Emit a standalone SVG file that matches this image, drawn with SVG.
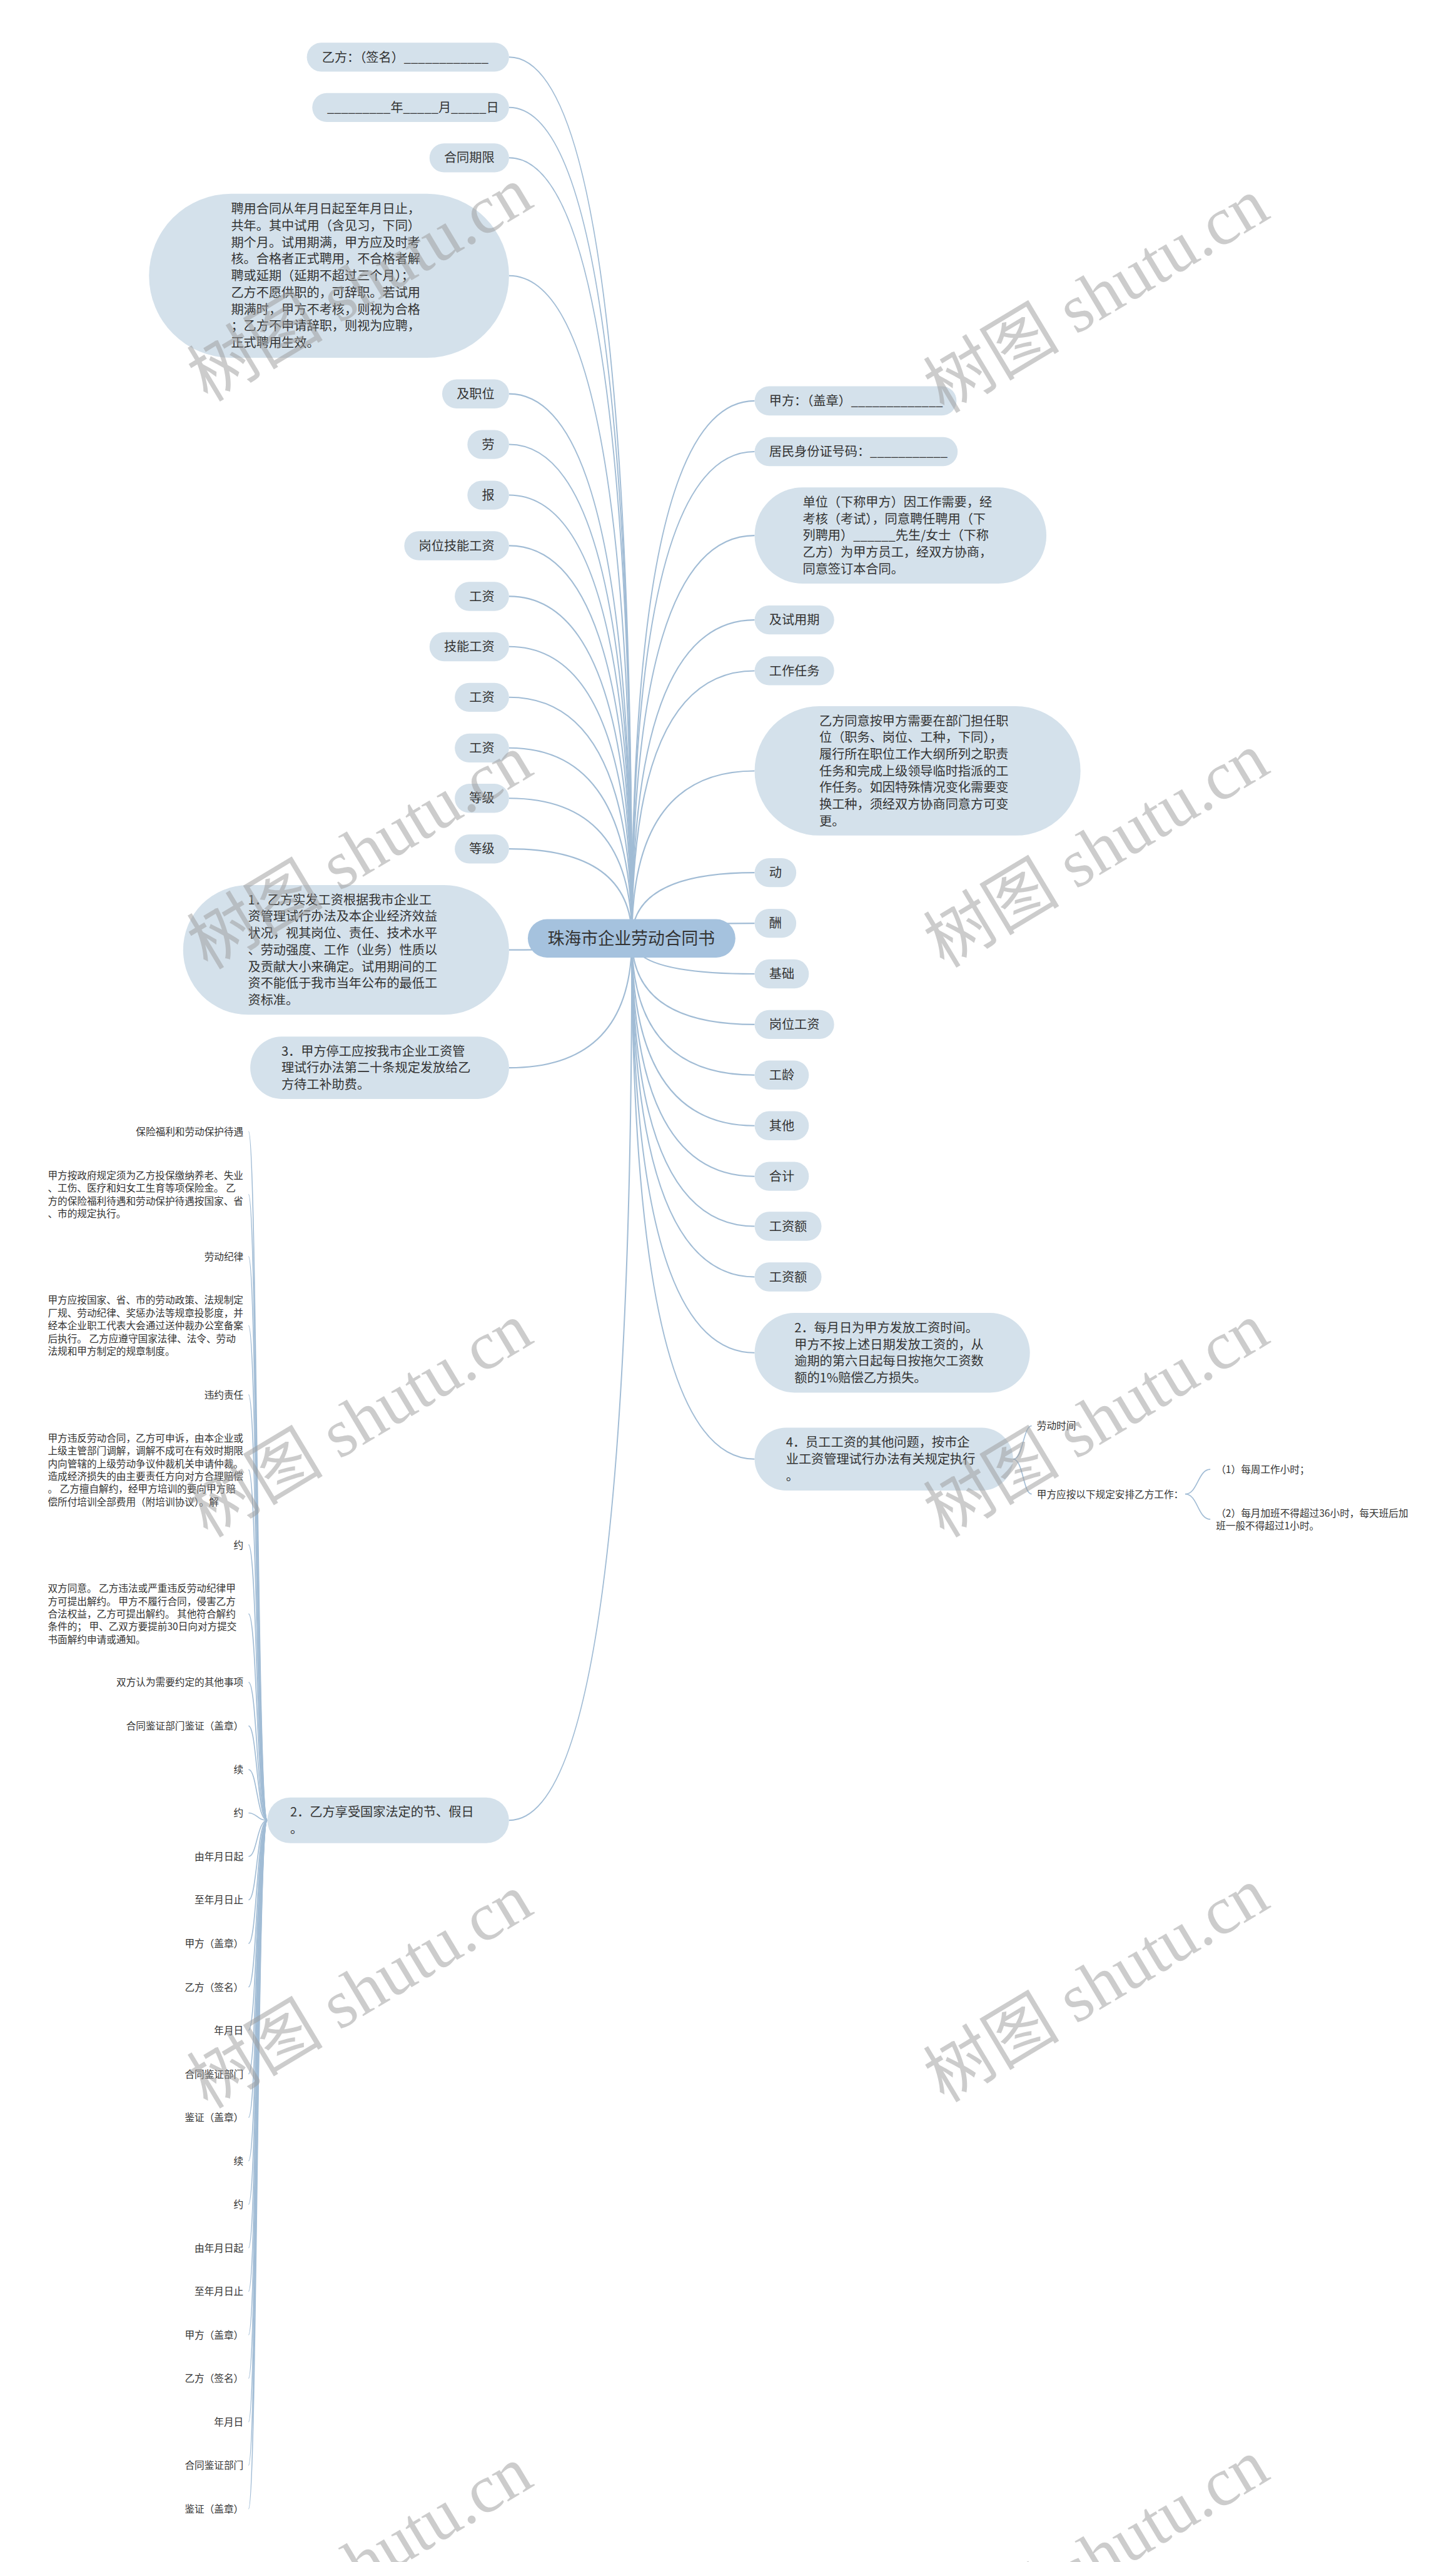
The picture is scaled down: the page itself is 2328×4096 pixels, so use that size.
<svg xmlns="http://www.w3.org/2000/svg" width="2328" height="4096" viewBox="0 0 2328 4096">
<style>
text{font-family:"Noto Sans CJK SC","Noto Sans CJK TC",sans-serif;fill:#333333;white-space:pre}
.nd rect{fill:#d4e1eb}
.root rect{fill:#a5c2de}
.t{font-size:22.2px}
.rt{font-size:29.4px}
.lf{font-size:17.2px}
.c path{fill:none;stroke:#a1bcd5;stroke-width:2.3}
.c2 path{fill:none;stroke:#a1bcd5;stroke-width:1.8}
.wm text{font-family:"Liberation Serif","Noto Sans CJK SC",serif;font-size:120px;fill:#9a9a9a;fill-opacity:0.5}
</style>
<rect width="2328" height="4096" fill="#ffffff"/>
<g transform="scale(0.909375)">
<g id="connectors" class="c">
<path d="M895 100.35Q1111 100.35 1111 1650"/>
<path d="M895 188.85Q1111 188.85 1111 1650"/>
<path d="M895 277.35Q1111 277.35 1111 1650"/>
<path d="M895 484.75Q1111 484.75 1111 1650"/>
<path d="M895 692.35Q1111 692.35 1111 1650"/>
<path d="M895 781.35Q1111 781.35 1111 1650"/>
<path d="M895 870.35Q1111 870.35 1111 1650"/>
<path d="M895 959.35Q1111 959.35 1111 1650"/>
<path d="M895 1048.35Q1111 1048.35 1111 1650"/>
<path d="M895 1136.85Q1111 1136.85 1111 1650"/>
<path d="M895 1225.85Q1111 1225.85 1111 1650"/>
<path d="M895 1314.85Q1111 1314.85 1111 1650"/>
<path d="M895 1403.35Q1111 1403.35 1111 1650"/>
<path d="M895 1492.35Q1111 1492.35 1111 1650"/>
<path d="M895 1670Q1111 1670 1111 1650"/>
<path d="M895 1877.25Q1111 1877.25 1111 1650"/>
<path d="M895 3200.25Q1111 3200.25 1111 1650"/>
<path d="M1326.8 704.75Q1111 704.75 1111 1650"/>
<path d="M1326.8 794Q1111 794 1111 1650"/>
<path d="M1326.8 941.4Q1111 941.4 1111 1650"/>
<path d="M1326.8 1089.9Q1111 1089.9 1111 1650"/>
<path d="M1326.8 1179.3Q1111 1179.3 1111 1650"/>
<path d="M1326.8 1355.3Q1111 1355.3 1111 1650"/>
<path d="M1326.8 1534.2Q1111 1534.2 1111 1650"/>
<path d="M1326.8 1623.2Q1111 1623.2 1111 1650"/>
<path d="M1326.8 1712.2Q1111 1712.2 1111 1650"/>
<path d="M1326.8 1801.1Q1111 1801.1 1111 1650"/>
<path d="M1326.8 1890.1Q1111 1890.1 1111 1650"/>
<path d="M1326.8 1979.1Q1111 1979.1 1111 1650"/>
<path d="M1326.8 2068.1Q1111 2068.1 1111 1650"/>
<path d="M1326.8 2155.9Q1111 2155.9 1111 1650"/>
<path d="M1326.8 2244.9Q1111 2244.9 1111 1650"/>
<path d="M1326.8 2378.3Q1111 2378.3 1111 1650"/>
<path d="M1326.8 2565.25Q1111 2565.25 1111 1650"/>
<g class="c2">
<path d="M1781.3 2565.25C1799 2565.25 1799 2506.7 1814 2506.7"/>
<path d="M1781.3 2565.25C1799 2565.25 1799 2626.7 1814 2626.7"/>
<path d="M2084 2626.7C2106 2626.7 2106 2583.3 2128 2583.3"/>
<path d="M2084 2626.7C2106 2626.7 2106 2671 2128 2671"/>
<path d="M470 3200.25C452 3200.25 452 1989.3 437 1989.3"/>
<path d="M470 3200.25C452 3200.25 452 2100 437 2100"/>
<path d="M470 3200.25C452 3200.25 452 2209 437 2209"/>
<path d="M470 3200.25C452 3200.25 452 2330.4 437 2330.4"/>
<path d="M470 3200.25C452 3200.25 452 2451.8 437 2451.8"/>
<path d="M470 3200.25C452 3200.25 452 2584 437 2584"/>
<path d="M470 3200.25C452 3200.25 452 2715.7 437 2715.7"/>
<path d="M470 3200.25C452 3200.25 452 2837.2 437 2837.2"/>
<path d="M470 3200.25C452 3200.25 452 2957.5 437 2957.5"/>
<path d="M470 3200.25C452 3200.25 452 3034.4 437 3034.4"/>
<path d="M470 3200.25C452 3200.25 452 3110.9 437 3110.9"/>
<path d="M470 3200.25C452 3200.25 452 3187.3 437 3187.3"/>
<path d="M470 3200.25C452 3200.25 452 3263.8 437 3263.8"/>
<path d="M470 3200.25C452 3200.25 452 3340.2 437 3340.2"/>
<path d="M470 3200.25C452 3200.25 452 3416.7 437 3416.7"/>
<path d="M470 3200.25C452 3200.25 452 3493.2 437 3493.2"/>
<path d="M470 3200.25C452 3200.25 452 3569.6 437 3569.6"/>
<path d="M470 3200.25C452 3200.25 452 3646.1 437 3646.1"/>
<path d="M470 3200.25C452 3200.25 452 3722.5 437 3722.5"/>
<path d="M470 3200.25C452 3200.25 452 3799 437 3799"/>
<path d="M470 3200.25C452 3200.25 452 3875.5 437 3875.5"/>
<path d="M470 3200.25C452 3200.25 452 3951.9 437 3951.9"/>
<path d="M470 3200.25C452 3200.25 452 4028.4 437 4028.4"/>
<path d="M470 3200.25C452 3200.25 452 4104.8 437 4104.8"/>
<path d="M470 3200.25C452 3200.25 452 4181.3 437 4181.3"/>
<path d="M470 3200.25C452 3200.25 452 4257.8 437 4257.8"/>
<path d="M470 3200.25C452 3200.25 452 4334.2 437 4334.2"/>
<path d="M470 3200.25C452 3200.25 452 4410.7 437 4410.7"/>
</g>
</g>

<g id="root" class="root"><rect x="928" y="1616" width="365" height="67.5" rx="33.75"/><text class="rt" x="963" y="1661">珠海市企业劳动合同书</text></g>

<g id="n-l1" class="nd"><rect x="539.5" y="75" width="355.5" height="51" rx="25.5"/><text class="t" x="566" y="108.35">乙方：（签名）____________</text></g>
<g id="n-l2" class="nd"><rect x="549" y="163.5" width="346" height="51" rx="25.5"/><text class="t" x="575" y="196.85">_________年_____月_____日</text></g>
<g id="n-l3" class="nd"><rect x="755.2" y="252" width="139.8" height="51" rx="25.5"/><text class="t" x="780.7" y="285.35">合同期限</text></g>
<g id="n-l4" class="nd"><rect x="262" y="340.5" width="633" height="288.5" rx="144.25"/><text class="t"><tspan x="406.25" y="375.15">聘用合同从年月日起至年月日止，</tspan><tspan x="406.25" y="404.55">共年。其中试用（含见习，下同）</tspan><tspan x="406.25" y="433.95">期个月。试用期满，甲方应及时考</tspan><tspan x="406.25" y="463.35">核。合格者正式聘用，不合格者解</tspan><tspan x="406.25" y="492.75">聘或延期（延期不超过三个月）；</tspan><tspan x="406.25" y="522.15">乙方不愿供职的，可辞职。若试用</tspan><tspan x="406.25" y="551.55">期满时，甲方不考核，则视为合格</tspan><tspan x="406.25" y="580.95">；乙方不申请辞职，则视为应聘，</tspan><tspan x="406.25" y="610.35">正式聘用生效。</tspan></text></g>
<g id="n-l5" class="nd"><rect x="777.4" y="667" width="117.6" height="51" rx="25.5"/><text class="t" x="802.9" y="700.35">及职位</text></g>
<g id="n-l6" class="nd"><rect x="821.8" y="756" width="73.2" height="51" rx="25.5"/><text class="t" x="847.3" y="789.35">劳</text></g>
<g id="n-l7" class="nd"><rect x="821.8" y="845" width="73.2" height="51" rx="25.5"/><text class="t" x="847.3" y="878.35">报</text></g>
<g id="n-l8" class="nd"><rect x="710.8" y="934" width="184.2" height="51" rx="25.5"/><text class="t" x="736.3" y="967.35">岗位技能工资</text></g>
<g id="n-l9" class="nd"><rect x="799.6" y="1023" width="95.4" height="51" rx="25.5"/><text class="t" x="825.1" y="1056.35">工资</text></g>
<g id="n-l10" class="nd"><rect x="755.2" y="1111.5" width="139.8" height="51" rx="25.5"/><text class="t" x="780.7" y="1144.85">技能工资</text></g>
<g id="n-l11" class="nd"><rect x="799.6" y="1200.5" width="95.4" height="51" rx="25.5"/><text class="t" x="825.1" y="1233.85">工资</text></g>
<g id="n-l12" class="nd"><rect x="799.6" y="1289.5" width="95.4" height="51" rx="25.5"/><text class="t" x="825.1" y="1322.85">工资</text></g>
<g id="n-l13" class="nd"><rect x="799.6" y="1378" width="95.4" height="51" rx="25.5"/><text class="t" x="825.1" y="1411.35">等级</text></g>
<g id="n-l14" class="nd"><rect x="799.6" y="1467" width="95.4" height="51" rx="25.5"/><text class="t" x="825.1" y="1500.35">等级</text></g>
<g id="n-l15" class="nd"><rect x="322" y="1556" width="573" height="228" rx="114"/><text class="t"><tspan x="436" y="1589.8">1．乙方实发工资根据我市企业工</tspan><tspan x="436" y="1619.2">资管理试行办法及本企业经济效益</tspan><tspan x="436" y="1648.6">状况，视其岗位、责任、技术水平</tspan><tspan x="436" y="1678">、劳动强度、工作（业务）性质以</tspan><tspan x="436" y="1707.4">及贡献大小来确定。试用期间的工</tspan><tspan x="436" y="1736.8">资不能低于我市当年公布的最低工</tspan><tspan x="436" y="1766.2">资标准。</tspan></text></g>
<g id="n-l16" class="nd"><rect x="440" y="1822.5" width="455" height="109.5" rx="54.75"/><text class="t"><tspan x="494.75" y="1855.85">3．甲方停工应按我市企业工资管</tspan><tspan x="494.75" y="1885.25">理试行办法第二十条规定发放给乙</tspan><tspan x="494.75" y="1914.65">方待工补助费。</tspan></text></g>
<g id="n-l17" class="nd"><rect x="470" y="3160" width="425" height="80.5" rx="40.25"/><text class="t"><tspan x="510.25" y="3193.55">2．乙方享受国家法定的节、假日</tspan><tspan x="510.25" y="3222.95">。</tspan></text></g>

<g id="n-r1" class="nd"><rect x="1326.8" y="679" width="355" height="51.5" rx="25.75"/><text class="t" x="1352.3" y="712.75">甲方：（盖章）_____________</text></g>
<g id="n-r2" class="nd"><rect x="1326.8" y="768.5" width="357" height="51" rx="25.5"/><text class="t" x="1352.3" y="802">居民身份证号码：___________</text></g>
<g id="n-r3" class="nd"><rect x="1326.8" y="856.8" width="513" height="169.2" rx="84.6"/><text class="t"><tspan x="1411.4" y="890.6">单位（下称甲方）因工作需要，经</tspan><tspan x="1411.4" y="920">考核（考试），同意聘任聘用（下</tspan><tspan x="1411.4" y="949.4">列聘用）______先生/女士（下称</tspan><tspan x="1411.4" y="978.8">乙方）为甲方员工，经双方协商，</tspan><tspan x="1411.4" y="1008.2">同意签订本合同。</tspan></text></g>
<g id="n-r4" class="nd"><rect x="1326.8" y="1064.4" width="139.8" height="51" rx="25.5"/><text class="t" x="1352.3" y="1097.9">及试用期</text></g>
<g id="n-r5" class="nd"><rect x="1326.8" y="1153.8" width="139.8" height="51" rx="25.5"/><text class="t" x="1352.3" y="1187.3">工作任务</text></g>
<g id="n-r6" class="nd"><rect x="1326.8" y="1241.6" width="573" height="227.4" rx="113.7"/><text class="t"><tspan x="1440.5" y="1275.1">乙方同意按甲方需要在部门担任职</tspan><tspan x="1440.5" y="1304.5">位（职务、岗位、工种，下同），</tspan><tspan x="1440.5" y="1333.9">履行所在职位工作大纲所列之职责</tspan><tspan x="1440.5" y="1363.3">任务和完成上级领导临时指派的工</tspan><tspan x="1440.5" y="1392.7">作任务。如因特殊情况变化需要变</tspan><tspan x="1440.5" y="1422.1">换工种，须经双方协商同意方可变</tspan><tspan x="1440.5" y="1451.5">更。</tspan></text></g>
<g id="n-r7" class="nd"><rect x="1326.8" y="1508.7" width="73.2" height="51" rx="25.5"/><text class="t" x="1352.3" y="1542.2">动</text></g>
<g id="n-r8" class="nd"><rect x="1326.8" y="1597.7" width="73.2" height="51" rx="25.5"/><text class="t" x="1352.3" y="1631.2">酬</text></g>
<g id="n-r9" class="nd"><rect x="1326.8" y="1686.7" width="95.4" height="51" rx="25.5"/><text class="t" x="1352.3" y="1720.2">基础</text></g>
<g id="n-r10" class="nd"><rect x="1326.8" y="1775.6" width="139.8" height="51" rx="25.5"/><text class="t" x="1352.3" y="1809.1">岗位工资</text></g>
<g id="n-r11" class="nd"><rect x="1326.8" y="1864.6" width="95.4" height="51" rx="25.5"/><text class="t" x="1352.3" y="1898.1">工龄</text></g>
<g id="n-r12" class="nd"><rect x="1326.8" y="1953.6" width="95.4" height="51" rx="25.5"/><text class="t" x="1352.3" y="1987.1">其他</text></g>
<g id="n-r13" class="nd"><rect x="1326.8" y="2042.6" width="95.4" height="51" rx="25.5"/><text class="t" x="1352.3" y="2076.1">合计</text></g>
<g id="n-r14" class="nd"><rect x="1326.8" y="2130.4" width="117.6" height="51" rx="25.5"/><text class="t" x="1352.3" y="2163.9">工资额</text></g>
<g id="n-r15" class="nd"><rect x="1326.8" y="2219.4" width="117.6" height="51" rx="25.5"/><text class="t" x="1352.3" y="2252.9">工资额</text></g>
<g id="n-r16" class="nd"><rect x="1326.8" y="2308.3" width="484" height="140" rx="70"/><text class="t"><tspan x="1396.8" y="2342.2">2．每月日为甲方发放工资时间。</tspan><tspan x="1396.8" y="2371.6">甲方不按上述日期发放工资的，从</tspan><tspan x="1396.8" y="2401">逾期的第六日起每日按拖欠工资数</tspan><tspan x="1396.8" y="2430.4">额的1%赔偿乙方损失。</tspan></text></g>
<g id="n-r17" class="nd"><rect x="1326.8" y="2510" width="454.5" height="110.5" rx="55.25"/><text class="t"><tspan x="1382" y="2543.85">4．员工工资的其他问题，按市企</tspan><tspan x="1382" y="2573.25">业工资管理试行办法有关规定执行</tspan><tspan x="1382" y="2602.65">。</tspan></text></g>
<g id="n-r17a"><text class="lf" x="1823" y="2513.2">劳动时间</text></g>
<g id="n-r17b"><text class="lf" x="1823" y="2633.2">甲方应按以下规定安排乙方工作：</text></g>
<g id="n-r17b1"><text class="lf" x="2138" y="2589.8">（1）每周工作小时；</text></g>
<g id="n-r17b2"><text class="lf"><tspan x="2138" y="2666.25">（2）每月加班不得超过36小时，每天班后加</tspan><tspan x="2138" y="2688.75">班一般不得超过1小时。</tspan></text></g>

<g id="leaves-left" class="lf">
<g id="lf1"><text class="lf" x="428" y="1995.8" text-anchor="end">保险福利和劳动保护待遇</text></g>
<g id="lf2"><text class="lf"><tspan x="84" y="2072.75">甲方按政府规定须为乙方投保缴纳养老、失业</tspan><tspan x="84" y="2095.25">、工伤、医疗和妇女工生育等项保险金。 乙</tspan><tspan x="84" y="2117.75">方的保险福利待遇和劳动保护待遇按国家、省</tspan><tspan x="84" y="2140.25">、市的规定执行。</tspan></text></g>
<g id="lf3"><text class="lf" x="428" y="2215.5" text-anchor="end">劳动纪律</text></g>
<g id="lf4"><text class="lf"><tspan x="84" y="2291.9">甲方应按国家、省、市的劳动政策、法规制定</tspan><tspan x="84" y="2314.4">厂规、劳动纪律、奖惩办法等规章投影度，并</tspan><tspan x="84" y="2336.9">经本企业职工代表大会通过送仲裁办公室备案</tspan><tspan x="84" y="2359.4">后执行。 乙方应遵守国家法律、法令、劳动</tspan><tspan x="84" y="2381.9">法规和甲方制定的规章制度。</tspan></text></g>
<g id="lf5"><text class="lf" x="428" y="2458.3" text-anchor="end">违约责任</text></g>
<g id="lf6"><text class="lf"><tspan x="84" y="2534.25">甲方违反劳动合同，乙方可申诉，由本企业或</tspan><tspan x="84" y="2556.75">上级主管部门调解，调解不成可在有效时期限</tspan><tspan x="84" y="2579.25">内向管辖的上级劳动争议仲裁机关申请仲裁。</tspan><tspan x="84" y="2601.75">造成经济损失的由主要责任方向对方合理赔偿</tspan><tspan x="84" y="2624.25">。 乙方擅自解约，经甲方培训的要向甲方赔</tspan><tspan x="84" y="2646.75">偿所付培训全部费用（附培训协议）。解</tspan></text></g>
<g id="lf7"><text class="lf" x="428" y="2722.2" text-anchor="end">约</text></g>
<g id="lf8"><text class="lf"><tspan x="84" y="2798.7">双方同意。 乙方违法或严重违反劳动纪律甲</tspan><tspan x="84" y="2821.2">方可提出解约。 甲方不履行合同，侵害乙方</tspan><tspan x="84" y="2843.7">合法权益，乙方可提出解约。 其他符合解约</tspan><tspan x="84" y="2866.2">条件的； 甲、乙双方要提前30日向对方提交</tspan><tspan x="84" y="2888.7">书面解约申请或通知。</tspan></text></g>
<g id="lf9"><text class="lf" x="428" y="2964" text-anchor="end">双方认为需要约定的其他事项</text></g>
<g id="lf10"><text class="lf" x="428" y="3040.9" text-anchor="end">合同鉴证部门鉴证（盖章）</text></g>
<g id="lf11"><text class="lf" x="428" y="3117.4" text-anchor="end">续</text></g>
<g id="lf12"><text class="lf" x="428" y="3193.8" text-anchor="end">约</text></g>
<g id="lf13"><text class="lf" x="428" y="3270.3" text-anchor="end">由年月日起</text></g>
<g id="lf14"><text class="lf" x="428" y="3346.7" text-anchor="end">至年月日止</text></g>
<g id="lf15"><text class="lf" x="428" y="3423.2" text-anchor="end">甲方（盖章）</text></g>
<g id="lf16"><text class="lf" x="428" y="3499.7" text-anchor="end">乙方（签名）</text></g>
<g id="lf17"><text class="lf" x="428" y="3576.1" text-anchor="end">年月日</text></g>
<g id="lf18"><text class="lf" x="428" y="3652.6" text-anchor="end">合同鉴证部门</text></g>
<g id="lf19"><text class="lf" x="428" y="3729" text-anchor="end">鉴证（盖章）</text></g>
<g id="lf20"><text class="lf" x="428" y="3805.5" text-anchor="end">续</text></g>
<g id="lf21"><text class="lf" x="428" y="3882" text-anchor="end">约</text></g>
<g id="lf22"><text class="lf" x="428" y="3958.4" text-anchor="end">由年月日起</text></g>
<g id="lf23"><text class="lf" x="428" y="4034.9" text-anchor="end">至年月日止</text></g>
<g id="lf24"><text class="lf" x="428" y="4111.3" text-anchor="end">甲方（盖章）</text></g>
<g id="lf25"><text class="lf" x="428" y="4187.8" text-anchor="end">乙方（签名）</text></g>
<g id="lf26"><text class="lf" x="428" y="4264.3" text-anchor="end">年月日</text></g>
<g id="lf27"><text class="lf" x="428" y="4340.7" text-anchor="end">合同鉴证部门</text></g>
<g id="lf28"><text class="lf" x="428" y="4417.2" text-anchor="end">鉴证（盖章）</text></g>
</g>

<g id="watermarks" class="wm">
<text transform="translate(365,708) rotate(-31)">树图 shutu.cn</text>
<text transform="translate(1660,728) rotate(-31)">树图 shutu.cn</text>
<text transform="translate(365,1706) rotate(-31)">树图 shutu.cn</text>
<text transform="translate(1660,1703) rotate(-31)">树图 shutu.cn</text>
<text transform="translate(365,2705) rotate(-31)">树图 shutu.cn</text>
<text transform="translate(1660,2705) rotate(-31)">树图 shutu.cn</text>
<text transform="translate(365,3709) rotate(-31)">树图 shutu.cn</text>
<text transform="translate(1660,3698) rotate(-31)">树图 shutu.cn</text>
<text transform="translate(365,4715) rotate(-31)">树图 shutu.cn</text>
<text transform="translate(1660,4703) rotate(-31)">树图 shutu.cn</text>
</g>
</g>
</svg>
